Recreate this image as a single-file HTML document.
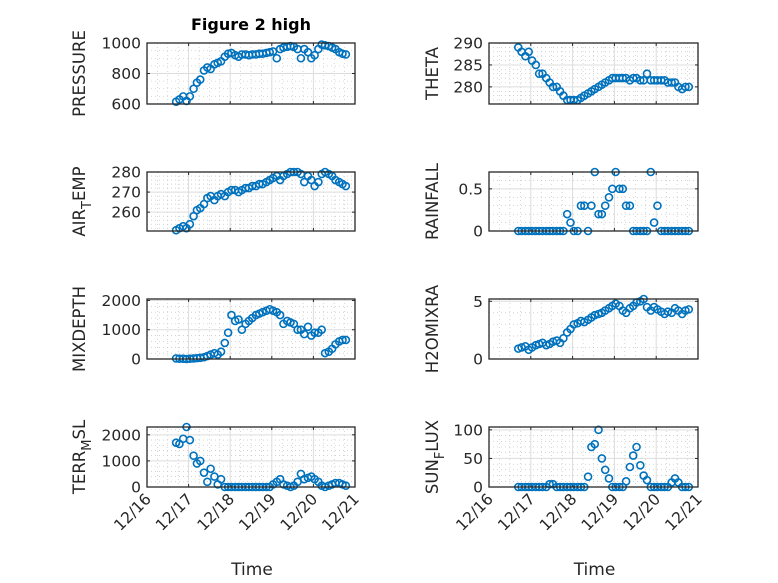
<!DOCTYPE html>
<html><head><meta charset="utf-8"><style>
body{margin:0;background:#fff}
svg{display:block;font-family:"DejaVu Sans","Liberation Sans",sans-serif}
</style></head><body>
<svg id="fig" width="778" height="583" viewBox="0 0 778 583" xmlns="http://www.w3.org/2000/svg">
<rect width="778" height="583" fill="#fff"/>
<text x="251" y="30" text-anchor="middle" font-weight="bold" font-size="16" fill="#000">Figure 2 high</text>
</svg>
<script>
const times=[16.70,16.78,16.87,16.95,17.03,17.12,17.20,17.28,17.37,17.45,17.53,17.62,17.70,17.78,17.87,17.95,18.03,18.12,18.20,18.28,18.37,18.45,18.53,18.62,18.70,18.78,18.87,18.95,19.03,19.12,19.20,19.28,19.37,19.45,19.53,19.62,19.70,19.78,19.87,19.95,20.03,20.12,20.20,20.28,20.37,20.45,20.53,20.62,20.70,20.78];
const xTickLabels=["12/16","12/17","12/18","12/19","12/20","12/21"];
const pressure=[615,630,650,620,650,700,740,760,820,840,830,860,870,880,910,930,935,920,910,925,925,920,925,925,930,930,935,940,945,900,960,970,975,980,975,960,900,960,940,900,920,960,990,985,980,970,960,940,930,925];
const airTemp=[251,252,253,252,254,258,261,262,264,267,268,266,268,269,268,270,271,271,270,271,272,272,273,273,274,274,275,276,277,278,276,278,279,280,280,280,279,275,278,276,273,275,279,280,279,278,276,275,274,273];
const theta=[289,288,287,288,286,285,283,283,282,281,280,280,279,278,277,277,277,277,277.5,278,278.5,279,279.5,280,280.5,281,281.5,282,282,282,282,282,281.5,282,282,281.5,281.5,283,281.5,281.5,281.5,281.5,281.5,281,281,281,280,279.5,280,280];
const rainfall=[0,0,0,0,0,0,0,0,0,0,0,0,0,0,0.2,0.1,0,0,0.3,0.3,0,0.3,0.7,0.2,0.2,0.3,0.4,0.5,0.7,0.5,0.5,0.3,0.3,0,0,0,0,0,0.7,0.1,0.3,0,0,0,0,0,0,0,0,0];
const mixDepth=[20,10,10,0,10,20,30,40,60,100,150,200,150,250,550,900,1500,1300,1350,1000,1200,1300,1400,1500,1550,1600,1650,1700,1650,1600,1500,1200,1300,1250,1200,1000,1000,850,1100,800,900,900,1000,200,250,350,500,600,650,650];
const h2oMix=[0.9,1.0,1.1,0.8,1.0,1.2,1.3,1.4,1.2,1.3,1.5,1.6,1.4,1.8,2.3,2.6,3.0,3.1,3.3,3.2,3.4,3.6,3.8,3.9,4.0,4.2,4.4,4.6,4.8,4.6,4.2,4.0,4.4,4.6,4.9,5.0,5.2,4.5,4.2,4.5,4.3,4.1,3.9,4.1,4.0,4.4,4.2,3.9,4.2,4.3];
const terrMsl=[1700,1650,1850,2300,1800,1200,900,1000,550,200,700,400,100,300,0,0,0,0,0,0,0,0,0,0,0,0,0,0,100,200,300,100,50,0,50,200,500,300,350,400,300,200,50,0,50,100,150,150,100,50];
const sunFlux=[0,0,0,0,0,0,0,0,0,5,5,0,0,0,0,0,0,0,0,0,18,70,75,100,50,30,15,0,0,0,0,10,35,55,70,38,20,12,0,0,0,0,0,0,8,15,8,0,0,0];
const yTicksPressure=[600,800,1000], yTicksAir=[260,270,280], yTicksTheta=[280,285,290], yTicksRain=[0,0.5];
const yTicksMix=[0,1000,2000], yTicksH2o=[0,5], yTicksTerr=[0,1000,2000], yTicksSun=[0,50,100];

const NS="http://www.w3.org/2000/svg";
const svg=document.getElementById('fig');
function mk(tag,attrs,parent){const e=document.createElementNS(NS,tag);for(const k in attrs)e.setAttribute(k,attrs[k]);(parent||svg).appendChild(e);return e;}
const cols=[[147,355],[489,698]];
const rows=[[43,104],[172,231],[299,359],[427,487]];
const panels=[
 {name:'pressure',c:0,r:0,data:pressure,ylim:[600,1000],ticks:yTicksPressure,minor:50,label:['PRESSURE']},
 {name:'theta',c:1,r:0,data:theta,ylim:[276.1,290],ticks:yTicksTheta,minor:1,label:['THETA']},
 {name:'air-temp',c:0,r:1,data:airTemp,ylim:[250.6,280],ticks:yTicksAir,minor:2,label:['AIR','T','EMP']},
 {name:'rainfall',c:1,r:1,data:rainfall,ylim:[0,0.7],ticks:yTicksRain,minor:0.1,label:['RAINFALL']},
 {name:'mixdepth',c:0,r:2,data:mixDepth,ylim:[0,2050],ticks:yTicksMix,minor:200,label:['MIXDEPTH']},
 {name:'h2omixra',c:1,r:2,data:h2oMix,ylim:[0,5.2],ticks:yTicksH2o,minor:1,label:['H2OMIXRA']},
 {name:'terr-msl',c:0,r:3,data:terrMsl,ylim:[0,2300],ticks:yTicksTerr,minor:200,label:['TERR','M','SL']},
 {name:'sun-flux',c:1,r:3,data:sunFlux,ylim:[0,105],ticks:yTicksSun,minor:10,label:['SUN','F','LUX']}
];
panels.forEach(p=>{
 const [x0,x1]=cols[p.c],[y0,y1]=rows[p.r];
 const g=mk('g',{});
 
 
 const xs=d=>x0+(d-16)/5*(x1-x0);
 const ys=v=>y1-(v-p.ylim[0])/(p.ylim[1]-p.ylim[0])*(y1-y0);
 for(let d=16;d<=21.001;d+=0.25){const x=xs(d);mk('line',{x1:x,x2:x,y1:y0,y2:y1,stroke:'#bbb','stroke-width':0.6,'stroke-dasharray':'1 3'},g);}
 for(let v=Math.ceil(p.ylim[0]/p.minor)*p.minor;v<=p.ylim[1];v+=p.minor){const y=ys(v);mk('line',{x1:x0,x2:x1,y1:y,y2:y,stroke:'#bbb','stroke-width':0.6,'stroke-dasharray':'1 3'},g);}
 for(let d=17;d<=20;d++){const x=xs(d);mk('line',{x1:x,x2:x,y1:y0,y2:y1,stroke:'#ddd','stroke-width':1},g);}
 p.ticks.forEach(v=>{const y=ys(v);mk('line',{x1:x0,x2:x1,y1:y,y2:y,stroke:'#ddd','stroke-width':1},g);
   const t=mk('text',{x:x0-6,y:y+5.5,'text-anchor':'end','font-size':15.5,fill:'#262626'},g);t.textContent=String(v);
   mk('line',{x1:x0,x2:x0+3,y1:y,y2:y,stroke:'#262626'},g);mk('line',{x1:x1,x2:x1-3,y1:y,y2:y,stroke:'#262626'},g);});
 for(let d=16;d<=21;d++){const x=xs(d);mk('line',{x1:x,x2:x,y1:y1,y2:y1-3,stroke:'#262626'},g);mk('line',{x1:x,x2:x,y1:y0,y2:y0+3,stroke:'#262626'},g);}
 const pts=mk('g',{},g);
 
 
 times.forEach((t,i)=>{const v=p.data[i];if(v===undefined)return;
   mk('circle',{cx:xs(t),cy:ys(v),r:3.5,fill:'none',stroke:'#0072BD','stroke-width':1.6},pts);});
 mk('rect',{x:x0,y:y0,width:x1-x0,height:y1-y0,fill:'none',stroke:'#262626','stroke-width':1.3},g);
 const lx=p.c==0?85:438,ly=(y0+y1)/2;
 const lab=mk('text',{x:lx,y:ly,'text-anchor':'middle','font-size':16.5,fill:'#262626',transform:`rotate(-90 ${lx} ${ly})`},g);
 
 
 if(p.label.length==1)lab.textContent=p.label[0];
 else{const a=mk('tspan',{},lab);a.textContent=p.label[0];const b=mk('tspan',{dy:6,'font-size':13},lab);b.textContent=p.label[1];const c=mk('tspan',{dy:-6},lab);c.textContent=p.label[2];}
 if(p.r==3){
   xTickLabels.forEach((s,i)=>{const x=xs(16+i),y=y1+13;
     const t=mk('text',{x:x+5,y:y,'text-anchor':'end','font-size':15.5,fill:'#262626',transform:`rotate(-45 ${x+5} ${y})`},g);t.textContent=s;});
   const tl=mk('text',{x:(x0+x1)/2+1,y:575,'text-anchor':'middle','font-size':17,fill:'#262626'},g);
   
   
   tl.textContent='Time';
 }
});
</script>
</body></html>
